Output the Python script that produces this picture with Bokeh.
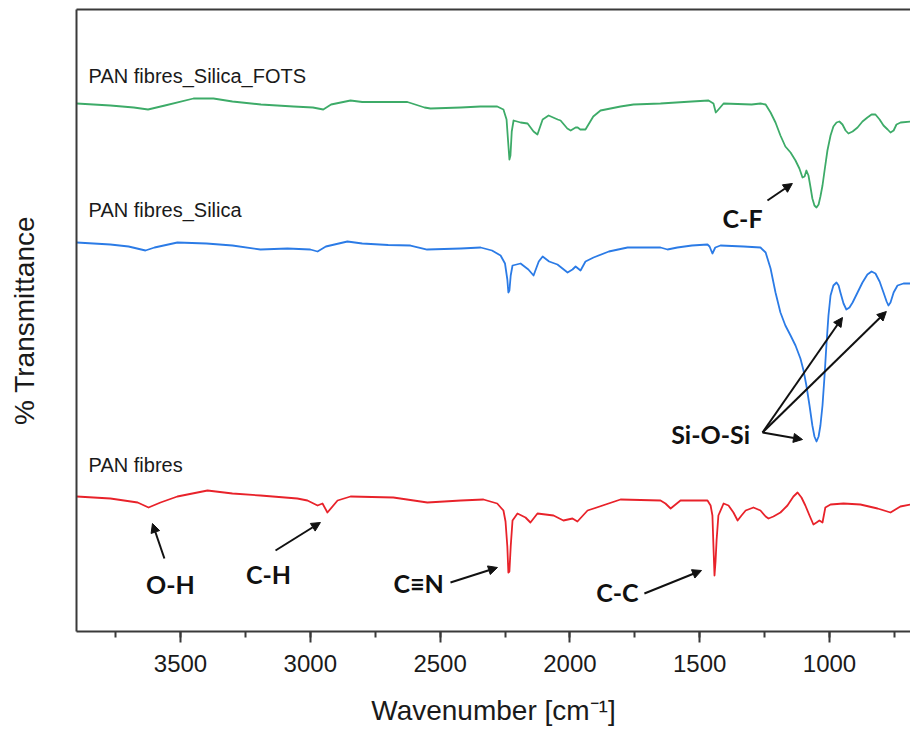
from bokeh.plotting import figure
from bokeh.models import (Range1d, LinearAxis, FixedTicker, SingleIntervalTicker,
                          Arrow, NormalHead)
from bokeh.core.properties import value
from bokeh.embed import file_html
from bokeh.resources import INLINE

# ---------------- data (wavenumber [cm-1], offset transmittance, a.u.) ----------------
fots_wn = [3900, 3770, 3680, 3625, 3560, 3450, 3373, 3300, 3190, 3065, 2990, 2950, 2920,
           2845, 2800, 2626, 2560, 2537, 2420, 2345, 2280, 2256, 2244, 2238, 2233, 2229, 2224,
           2217, 2190, 2163, 2140, 2125, 2105, 2082, 2047, 2036, 2010, 1997, 1978, 1970,
           1960, 1940, 1910, 1882, 1805, 1755, 1651, 1530, 1466, 1447, 1438, 1431, 1408,
           1300, 1266, 1246, 1227, 1208, 1189, 1170, 1150, 1131, 1116, 1104, 1096, 1089,
           1081, 1073, 1066, 1058, 1050, 1042, 1035, 1027, 1019, 1008, 996, 985, 973, 962,
           950, 938, 927, 911, 892, 873, 854, 838, 823, 807, 792, 776, 765, 753, 742, 726, 688]
fots_t = [528, 526, 524, 522, 526, 533, 533, 530, 527, 525, 524, 522, 527,
          531, 529.5, 529.5, 524, 523, 524, 525, 525, 522, 512, 490, 472, 476, 500,
          511, 509, 508, 500, 497, 512, 516, 512, 511, 503, 501, 504, 504,
          502, 502, 515, 521, 525, 527, 528, 530, 531, 528, 519, 521, 528,
          527, 528, 527, 519, 509, 496, 485, 479, 471, 463, 454, 455, 461,
          456, 444, 433, 426, 424, 427, 435, 446, 461, 481, 496, 505, 509, 510,
          507, 501, 498, 500, 504, 510, 514, 517, 517, 512, 506, 502, 499, 501, 507, 509, 510]

silica_wn = [3900, 3770, 3700, 3635, 3600, 3512, 3400, 3300, 3192, 3088, 3000, 2972, 2940,
             2857, 2800, 2700, 2614, 2550, 2420, 2344, 2300, 2267, 2250, 2241, 2237, 2233,
             2228, 2221, 2190, 2160, 2140, 2120, 2105, 2080, 2048, 2009, 1990, 1978, 1959,
             1940, 1909, 1850, 1778, 1651, 1624, 1586, 1530, 1470, 1462, 1451, 1440, 1420,
             1331, 1266, 1246, 1227, 1208, 1189, 1170, 1150, 1131, 1112, 1100, 1089, 1077,
             1066, 1058, 1050, 1042, 1035, 1027, 1019, 1012, 1004, 996, 985, 973, 965, 958,
             946, 935, 923, 911, 892, 873, 854, 838, 823, 807, 792, 780, 773, 765, 753, 738,
             715, 688]
silica_t = [389, 387, 385, 381, 384, 389, 388, 386, 382, 383, 382, 380, 385,
            390, 388, 386.5, 386, 382, 383, 384, 381, 376, 368, 352, 339, 341,
            356, 366, 368, 362, 356, 370, 375, 370, 367, 359, 362, 365, 361,
            370, 374, 380, 384, 384, 382, 384, 386, 387, 385, 378, 384, 386,
            385, 384, 379, 363, 339, 319, 306, 296, 286, 273, 261, 246, 226,
            206, 195, 190, 195, 206, 226, 256, 286, 316, 336, 346, 349, 346, 339,
            328, 322, 324, 329, 339, 349, 357, 360, 358, 350, 339, 330, 326, 329, 339, 346,
            348, 348]

pan_wn = [3900, 3770, 3665, 3623, 3577, 3512, 3396, 3300, 3192, 3050, 3011, 2972, 2953,
          2934, 2895, 2845, 2680, 2549, 2420, 2333, 2280, 2256, 2248, 2241, 2237, 2233,
          2228, 2221, 2202, 2171, 2152, 2125, 2063, 2025, 1990, 1971, 1932, 1805, 1651,
          1632, 1612, 1593, 1574, 1470, 1458, 1451, 1447, 1443, 1439, 1435, 1428, 1408,
          1389, 1370, 1354, 1339, 1323, 1293, 1266, 1246, 1235, 1216, 1189, 1162, 1139,
          1123, 1108, 1093, 1077, 1062, 1050, 1039, 1027, 1016, 996, 946, 881, 815, 765,
          727, 688]
pan_t = [135, 133, 129, 124, 129, 135, 141, 138, 136, 133, 131, 126, 128,
         119, 131, 135, 134, 129, 131, 132, 128, 121, 110, 85, 59, 60,
         85, 111, 118, 114, 109, 118, 116, 111, 113, 110, 121, 132, 131,
         128, 123, 127, 131, 131, 126, 116, 85, 56, 70, 91, 116, 128,
         126, 119, 111, 116, 121, 124, 121, 115, 113, 115, 119, 126, 135,
         139, 134, 126, 116, 107, 109, 111, 109, 124, 127, 128, 127, 123, 119,
         125, 127]

series_names = ["PAN fibres_Silica_FOTS", "PAN fibres_Silica", "PAN fibres"]
series_colors = ["#3dab68", "#2b7be6", "#e8222a"]
series_label_wn = [3854, 3854, 3854]
series_label_t = [556, 422, 167]

# band annotations: text position and arrow(s)
band_labels = ["C-F", "Si-O-Si", "O-H", "C-H", "C≡N", "C-C"]
band_text_wn = [1335, 1458, 3539, 3161, 2583, 1817]
band_text_t = [414, 198, 48, 58, 49, 40]
arrow_start_wn = [1239, 1258, 1258, 1258, 3562, 3134, 2460, 1713]
arrow_start_t = [431, 199, 199, 199, 73, 81, 49, 38]
arrow_end_wn = [1143, 1104, 950, 781, 3608, 2961, 2279, 1493]
arrow_end_t = [448, 192, 314, 320, 108, 109, 64, 61]

x_start, x_end = 3900.6, 688
y_start, y_end = 0, 622

# ---------------- figure ----------------
p = figure(width=910, height=733, output_backend="svg", toolbar_location=None,
           x_range=Range1d(x_start, x_end), y_range=Range1d(y_start, y_end),
           min_border_left=76, min_border_right=0, min_border_top=9, min_border_bottom=102,
           x_axis_location=None, y_axis_location=None)
p.outline_line_color = None
p.grid.visible = False
p.background_fill_color = "white"
p.border_fill_color = "white"

axis_color = "#3a3a3a"
xax = LinearAxis(ticker=SingleIntervalTicker(interval=500, num_minor_ticks=2),
                 axis_label="Wavenumber [cm\u207b\u00b9]")
xax.axis_line_color = axis_color
xax.axis_line_width = 2
xax.major_tick_line_color = axis_color
xax.major_tick_line_width = 2
xax.minor_tick_line_color = axis_color
xax.minor_tick_line_width = 2
xax.major_tick_out = 11
xax.major_tick_in = 0
xax.minor_tick_out = 6
xax.minor_tick_in = 0
xax.major_label_text_font = "Liberation Sans"
xax.major_label_text_font_size = "24px"
xax.major_label_text_color = "#1a1a1a"
xax.major_label_standoff = 12
xax.axis_label_text_font = "Liberation Sans"
xax.axis_label_text_font_size = "28px"
xax.axis_label_text_font_style = "normal"
xax.axis_label_text_color = "#1a1a1a"
xax.axis_label_standoff = 20
p.add_layout(xax, "below")

yax = LinearAxis(ticker=FixedTicker(ticks=[]), axis_label="% Transmittance")
yax.axis_line_color = axis_color
yax.axis_line_width = 2
yax.major_tick_line_color = None
yax.minor_tick_line_color = None
yax.axis_label_text_font = "Liberation Sans"
yax.axis_label_text_font_size = "28px"
yax.axis_label_text_font_style = "normal"
yax.axis_label_text_color = "#1a1a1a"
yax.axis_label_standoff = 37
p.add_layout(yax, "left")

topax = LinearAxis(ticker=FixedTicker(ticks=[]))
topax.axis_line_color = axis_color
topax.axis_line_width = 2
topax.major_tick_line_color = None
topax.minor_tick_line_color = None
p.add_layout(topax, "above")

# spectra
for wn, t, c in zip([fots_wn, silica_wn, pan_wn], [fots_t, silica_t, pan_t], series_colors):
    p.line(wn, t, line_color=c, line_width=1.8, line_join="round")

# series labels
p.text(x=series_label_wn, y=series_label_t, text=series_names,
       text_font=value("Liberation Sans"), text_font_size="20px",
       text_color="#1a1a1a", text_align="left", text_baseline="middle")

# band labels
p.text(x=band_text_wn, y=band_text_t, text=band_labels,
       text_font=value("Lato"), text_font_size="25px", text_font_style="bold",
       text_color="#111111", text_align="center", text_baseline="middle")

# arrows
for xs, ys, xe, ye in zip(arrow_start_wn, arrow_start_t, arrow_end_wn, arrow_end_t):
    p.add_layout(Arrow(end=NormalHead(size=9, fill_color="#111111", line_color="#111111"),
                       x_start=xs, y_start=ys, x_end=xe, y_end=ye,
                       line_color="#111111", line_width=2))

open("out.html", "w").write(file_html(p, INLINE))
